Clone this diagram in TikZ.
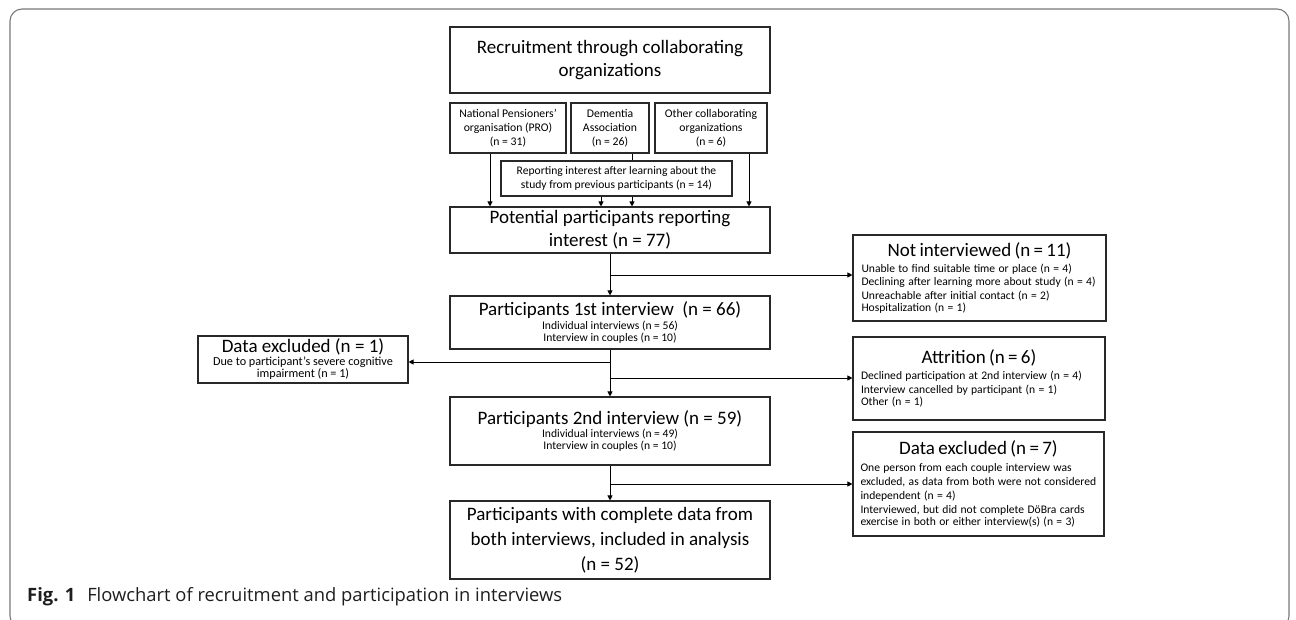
\documentclass[tikz,border=0pt]{standalone}
\usepackage{fontspec}
\setmainfont{Carlito}
\newfontfamily\captfont{Open Sans}
\usepackage{graphicx}
\usepackage{xcolor}
\usepackage{tikz}
\usetikzlibrary{arrows.meta,positioning,calc}
\definecolor{frame}{RGB}{120,120,120}
\definecolor{ink}{RGB}{40,40,40}
\definecolor{capt}{RGB}{30,30,30}
\newcommand\fsz[2]{\fontsize{#1}{#2}\selectfont}
\tikzset{
  box/.style={draw=ink, line width=1.1pt, inner sep=2pt, align=center, text=black},
  arr/.style={draw=black, line width=1pt, -{Triangle[length=5pt,width=5pt]}},
  lnk/.style={draw=black, line width=1pt},
}

\begin{document}
\begin{tikzpicture}[x=1pt,y=-1pt]
  \useasboundingbox (0,0) rectangle (1296,619);
  % outer frame of the figure
  \draw[frame, line width=1.1pt, rounded corners=12pt] (10,9) rectangle (1289,628);
  % recruitment
  \node[box, minimum width=320pt, minimum height=66pt, font=\fsz{19}{23}] (recr) at (610,60)
    {Recruitment through collaborating\\organizations};
  \node[box, minimum width=116pt, minimum height=50pt, font=\fsz{11.7}{14}] (pro) at (508,128)
    {National Pensioners’\\organisation (PRO)\\(n = 31)};
  \node[box, minimum width=78pt, minimum height=50pt, font=\fsz{11.7}{14}] (dem) at (610,128)
    {Dementia\\Association\\(n = 26)};
  \node[box, minimum width=112pt, minimum height=50pt, font=\fsz{11.7}{14}] (oth) at (711,128)
    {Other collaborating\\organizations\\(n = 6)};
  \node[box, minimum width=231pt, minimum height=35pt, font=\fsz{11.6}{14}] (rep) at (616.5,178.5)
    {Reporting interest after learning about the\\study from previous participants (n = 14)};
  % main column
  \node[box, minimum width=320pt, minimum height=46pt, font=\fsz{19}{23}] (pot) at (610,230)
    {Potential participants reporting\\interest (n = 77)};
  \node[box, minimum width=320pt, minimum height=53pt] (int1) at (610,322.5)
    {{\fsz{19}{20}Participants 1st interview~~(n = 66)}\\[1.5pt]
     {\fsz{11.6}{14.5}Individual interviews (n = 56)}\\{\fsz{11.6}{14.5}Interview in couples (n = 10)}};
  \node[box, minimum width=320pt, minimum height=68pt] (int2) at (610,431)
    {{\fsz{19}{20}Participants 2nd interview (n = 59)}\\[1.5pt]
     {\fsz{11.6}{14.5}Individual interviews (n = 49)}\\{\fsz{11.6}{14.5}Interview in couples (n = 10)}};
  \node[box, minimum width=320pt, minimum height=78pt, font=\fsz{19}{25}] (fin) at (610,540)
    {Participants with complete data from\\both interviews, included in analysis\\(n = 52)};
  % side boxes
  \node[box, inner ysep=1pt, minimum width=210pt, minimum height=47pt] (excl1) at (303,359.5)
    {{\fsz{19}{19}Data excluded (n = 1)}\\[1pt]
     {\fsz{12.2}{14}Due to participant’s severe cognitive}\\{\fsz{12.2}{14}impairment (n = 1)}};
  \node[box, minimum width=253pt, minimum height=86pt, text width=236pt, align=left] (noint) at (979.5,278)
    {{\centering\fsz{19}{20}Not interviewed (n = 11)\par}\vskip2pt\raggedright\fsz{11.6}{13.9}
     Unable to find suitable time or place (n = 4)\\
     Declining after learning more about study (n = 4)\\
     Unreachable after initial contact (n = 2)\\
     Hospitalization (n = 1)};
  \node[box, minimum width=252pt, minimum height=83pt, text width=236pt, align=left] (attr) at (979,378.5)
    {{\centering\fsz{19}{20}Attrition (n = 6)\par}\vskip2pt\raggedright\fsz{11.6}{13.9}
     Declined participation at 2nd interview (n = 4)\\
     Interview cancelled by participant (n = 1)\\
     Other (n = 1)};
  \node[box, minimum width=251pt, minimum height=104pt, text width=236pt, align=left] (excl7) at (978.5,484)
    {{\centering\fsz{19}{20}Data excluded (n = 7)\par}\vskip2.5pt\raggedright\fsz{11.6}{14}
     One person from each couple interview was\\
     excluded, as data from both were not considered\\
     independent (n = 4)\\
     Interviewed, but did not complete DöBra cards\\
     exercise in both or either interview(s) (n = 3)};
  % connectors from the organisations
  \draw[arr] ([xshift=-18pt]pro.south) -- ([xshift=-18pt]pro.south |- pot.north);
  \draw[arr] ([xshift=38pt]oth.south) -- ([xshift=38pt]oth.south |- pot.north);
  \draw[lnk] ([xshift=22pt]dem.south) -- ([xshift=22pt]dem.south |- rep.north);
  \draw[arr] ([xshift=-15.5pt]rep.south) -- ([xshift=-15.5pt]rep.south |- pot.north);
  \draw[arr] ([xshift=15.5pt]rep.south) -- ([xshift=15.5pt]rep.south |- pot.north);
  % main flow with branches
  \coordinate (b1) at (610,275);
  \coordinate (b2) at (610,362);
  \coordinate (b3) at (610,378);
  \coordinate (b4) at (610,484);
  \draw[arr] (pot.south) -- (int1.north);
  \draw[arr] (b1) -- (noint.west |- b1);
  \draw[arr] (int1.south) -- (int2.north);
  \draw[arr] (b2) -- (excl1.east |- b2);
  \draw[arr] (b3) -- (attr.west |- b3);
  \draw[arr] (int2.south) -- (fin.north);
  \draw[arr] (b4) -- (excl7.west |- b4);
  % caption
  \node[anchor=west, inner sep=0pt, text=capt] (cap) at (27,597)
    {\resizebox{535pt}{!}{\captfont\fsz{17}{20}\textbf{Fig. 1}\hspace{11pt}Flowchart of recruitment and participation in interviews}};
\end{tikzpicture}
\end{document}
